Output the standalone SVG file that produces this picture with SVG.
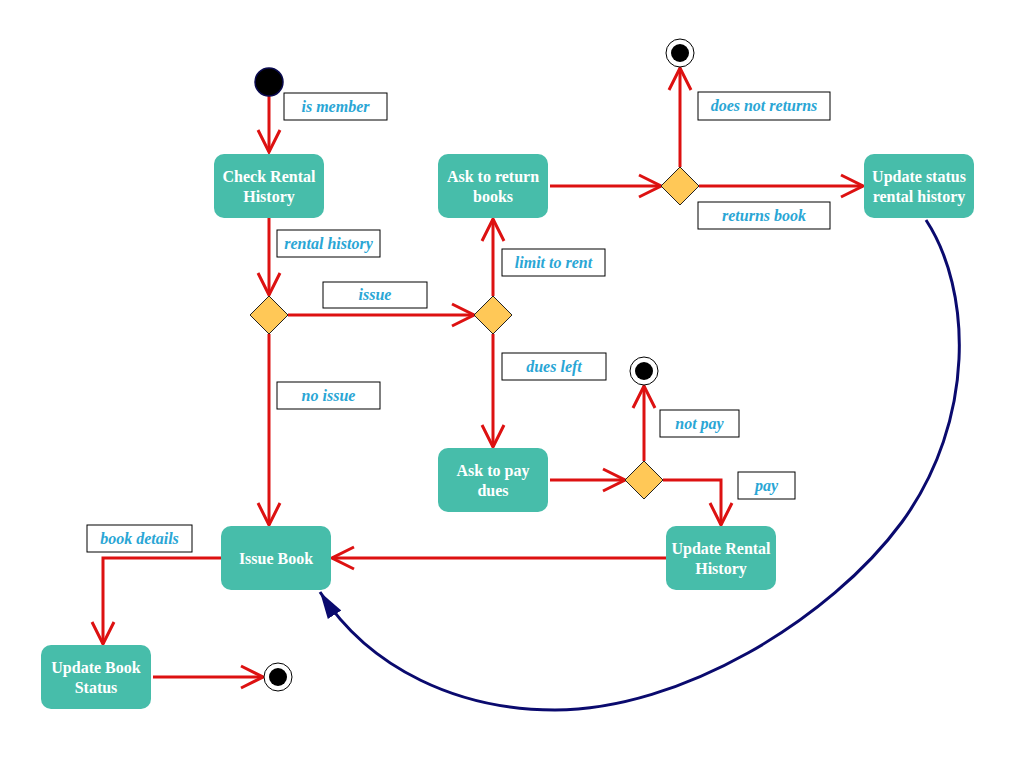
<svg xmlns="http://www.w3.org/2000/svg" width="1016" height="758" viewBox="0 0 1016 758">
<defs>
<style>
.node rect{fill:#47BDAA;}
.node text{fill:#fff;font-family:"Liberation Serif",serif;font-weight:bold;font-size:16px;text-anchor:middle;}
.dia{fill:#FFC857;stroke:#222;stroke-width:1;}
.lbl rect{fill:#fff;stroke:#000;stroke-width:1;}
.lbl text{fill:#2AA6D5;font-family:"Liberation Serif",serif;font-weight:bold;font-style:italic;font-size:16px;text-anchor:middle;}
.edge{fill:none;stroke:#DD1111;stroke-width:3;}
.curve{fill:none;stroke:#0A0A6E;stroke-width:3;}
</style>
<marker id="open" markerUnits="userSpaceOnUse" markerWidth="26" markerHeight="26" viewBox="0 0 26 26" refX="24" refY="13" orient="auto">
<path d="M2,2 L24,13 L2,24" fill="none" stroke="#DD1111" stroke-width="3"/>
</marker>
<marker id="filled" markerUnits="userSpaceOnUse" markerWidth="28" markerHeight="20" viewBox="0 0 28 20" refX="27" refY="10" orient="auto">
<path d="M0,2 L27,10 L0,18 Z" fill="#0A0A6E"/>
</marker>
</defs>
<rect width="1016" height="758" fill="#fff"/>

<g id="connectors">
<path class="edge" d="M269,96 L269,152" marker-end="url(#open)"/>
<path class="edge" d="M269,218 L269,295" marker-end="url(#open)"/>
<path class="edge" d="M288,315 L474,315" marker-end="url(#open)"/>
<path class="edge" d="M269,334 L269,525" marker-end="url(#open)"/>
<path class="edge" d="M493,296 L493,219" marker-end="url(#open)"/>
<path class="edge" d="M493,334 L493,447" marker-end="url(#open)"/>
<path class="edge" d="M550,186 L661,186" marker-end="url(#open)"/>
<path class="edge" d="M680,167 L680,68" marker-end="url(#open)"/>
<path class="edge" d="M699,186 L863,186" marker-end="url(#open)"/>
<path class="edge" d="M550,480 L625,480" marker-end="url(#open)"/>
<path class="edge" d="M644,461 L644,386" marker-end="url(#open)"/>
<path class="edge" d="M663,480 L721,480 L721,525" marker-end="url(#open)"/>
<path class="edge" d="M666,558 L332,558" marker-end="url(#open)"/>
<path class="edge" d="M221,558 L103,558 L103,644" marker-end="url(#open)"/>
<path class="edge" d="M153,677 L263,677" marker-end="url(#open)"/>
<path class="curve" d="M926,220 C972,290 976,420 902,522 C830,620 680,710 555,710 C460,710 370,670 320,592" marker-end="url(#filled)"/>
</g>

<g id="start"><circle cx="269" cy="82" r="14" fill="#000" stroke="#0A0A4E" stroke-width="1.5"/></g>
<g id="end1"><circle cx="680" cy="53" r="14" fill="#fff" stroke="#000" stroke-width="1"/><circle cx="680" cy="53" r="9" fill="#000"/></g>
<g id="end2"><circle cx="644" cy="371" r="14" fill="#fff" stroke="#000" stroke-width="1"/><circle cx="644" cy="371" r="9" fill="#000"/></g>
<g id="end3"><circle cx="278" cy="677" r="14" fill="#fff" stroke="#000" stroke-width="1"/><circle cx="278" cy="677" r="9" fill="#000"/></g>

<g id="dec1"><path class="dia" d="M269,296 L288,315 L269,334 L250,315 Z"/></g>
<g id="dec2"><path class="dia" d="M493,296 L512,315 L493,334 L474,315 Z"/></g>
<g id="dec3"><path class="dia" d="M680,167 L699,186 L680,205 L661,186 Z"/></g>
<g id="dec4"><path class="dia" d="M644,461 L663,480 L644,499 L625,480 Z"/></g>

<g id="checkRental" class="node"><rect x="214" y="154" width="110" height="64" rx="10"/><text x="269" y="182">Check Rental</text><text x="269" y="202">History</text></g>
<g id="askReturn" class="node"><rect x="438" y="154" width="110" height="64" rx="10"/><text x="493" y="182">Ask to return</text><text x="493" y="202">books</text></g>
<g id="updateStatus" class="node"><rect x="864" y="154" width="110" height="64" rx="10"/><text x="919" y="182">Update status</text><text x="919" y="202">rental history</text></g>
<g id="askPay" class="node"><rect x="438" y="448" width="110" height="64" rx="10"/><text x="493" y="476">Ask to pay</text><text x="493" y="496">dues</text></g>
<g id="issueBook" class="node"><rect x="221" y="526" width="110" height="64" rx="10"/><text x="276" y="564">Issue Book</text></g>
<g id="updateRental" class="node"><rect x="666" y="526" width="110" height="64" rx="10"/><text x="721" y="554">Update Rental</text><text x="721" y="574">History</text></g>
<g id="updateBook" class="node"><rect x="41" y="645" width="110" height="64" rx="10"/><text x="96" y="673">Update Book</text><text x="96" y="693">Status</text></g>

<g id="labels">
<g class="lbl"><rect x="284" y="93" width="103" height="27"/><text x="335.5" y="112">is member</text></g>
<g class="lbl"><rect x="277" y="230" width="103" height="27"/><text x="328.5" y="249">rental history</text></g>
<g class="lbl"><rect x="323" y="282" width="104" height="26"/><text x="375" y="300">issue</text></g>
<g class="lbl"><rect x="277" y="382" width="103" height="27"/><text x="328.5" y="401">no issue</text></g>
<g class="lbl"><rect x="502" y="249" width="103" height="27"/><text x="553.5" y="268">limit to rent</text></g>
<g class="lbl"><rect x="502" y="353" width="104" height="27"/><text x="554" y="372">dues left</text></g>
<g class="lbl"><rect x="698" y="92" width="132" height="28"/><text x="764" y="111">does not returns</text></g>
<g class="lbl"><rect x="698" y="202" width="132" height="27"/><text x="764" y="221">returns book</text></g>
<g class="lbl"><rect x="660" y="410" width="79" height="27"/><text x="699.5" y="429">not pay</text></g>
<g class="lbl"><rect x="738" y="472" width="57" height="27"/><text x="766.5" y="491">pay</text></g>
<g class="lbl"><rect x="87" y="525" width="105" height="27"/><text x="139.5" y="544">book details</text></g>
</g>
</svg>
